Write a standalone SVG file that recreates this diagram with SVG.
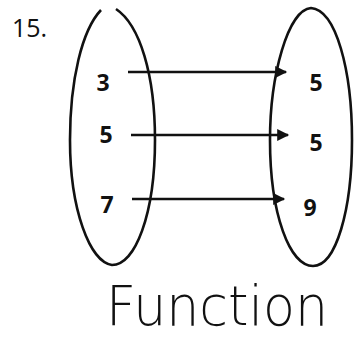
<svg xmlns="http://www.w3.org/2000/svg" width="359" height="340" viewBox="0 0 359 340">
<style>
.set{fill:none;stroke:#111;stroke-width:2.6}
.num{font-family:"Open Sans","Liberation Sans",sans-serif;font-weight:bold;font-size:23px;fill:#111;text-anchor:middle}
.arr{stroke:#111;stroke-width:2.6;fill:none}
</style>
<defs>
<marker id="ah" viewBox="0 0 10 10" refX="9" refY="5" markerWidth="14" markerHeight="12" markerUnits="userSpaceOnUse" orient="auto">
<path d="M0,0 L10,5 L0,10 z" fill="#111"/>
</marker>
</defs>
<rect width="359" height="340" fill="#fff"/>
<text x="12" y="37" font-family="Open Sans, Liberation Sans, sans-serif" font-size="25" fill="#111">15.</text>
<g id="domain">
<path class="set" d="M101,10 C82,30 70,80 70,140 C70,210 90,262 112,265 C135,265 155,215 155,140 C155,75 140,25 116,9"/>
<text class="num" x="103" y="91">3</text>
<text class="num" x="106" y="143">5</text>
<text class="num" x="107" y="213">7</text>
</g>
<g id="range">
<path class="set" d="M311,8 C288,10 270,75 270,140 C270,215 290,266 313,266 C336,266 352,210 352,140 C352,70 336,10 311,8 Z"/>
<text class="num" x="316" y="91">5</text>
<text class="num" x="316" y="151">5</text>
<text class="num" x="310" y="216">9</text>
</g>
<g id="connectors">
<line class="arr" x1="128" y1="72" x2="286" y2="72" marker-end="url(#ah)"/>
<line class="arr" x1="131" y1="135" x2="288" y2="135" marker-end="url(#ah)"/>
<line class="arr" x1="132" y1="199" x2="284" y2="199" marker-end="url(#ah)"/>
</g>
<text x="106" y="325" font-family="DejaVu Sans, sans-serif" font-weight="200" font-size="56" textLength="222" lengthAdjust="spacingAndGlyphs" fill="#111">Function</text>
</svg>
